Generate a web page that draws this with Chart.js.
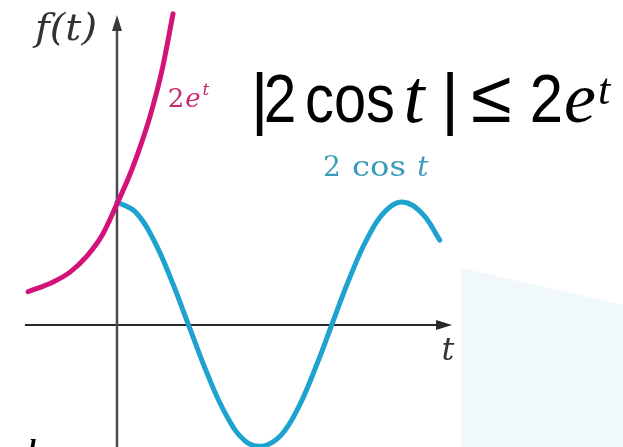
<!DOCTYPE html>
<html>
<head>
<meta charset="utf-8">
<script src="https://cdn.jsdelivr.net/npm/chart.js@4/dist/chart.umd.min.js"></script>
<style>
  html, body { margin: 0; padding: 0; background: #fff; }
  canvas { display: block; }
</style>
</head>
<body>
<canvas id="grafico" width="623" height="447"></canvas>
<script>
// curva 2 cos t
const tCos = [0, 0.4, 0.8, 1.2, 1.6, 2.0, 2.4, 2.8, 3.18, 3.6, 4.0, 4.4, 4.71, 5.1, 5.5, 5.9, 6.27, 6.7, 7.08];
const cosValues = [2.0, 1.84, 1.39, 0.72, -0.06, -0.83, -1.47, -1.88, -1.97, -1.79, -1.31, -0.61, 0.0, 0.76, 1.42, 1.86, 2.0, 1.81, 1.38];

// curva 2e^t
const tExp = [-1.95, -1.40, -1.03, -0.66, -0.31, 0, 0.29, 0.50, 0.72, 0.99, 1.23];
const expValues = [0.54, 0.70, 0.86, 1.12, 1.48, 1.97, 2.46, 2.88, 3.38, 4.15, 5.06];

// limites dos eixos
const tRange = [-2.566, 11.1];
const fRange = [-1.984, 5.285];
const axisT = [-2.02, 7.35];
const axisF = [-1.984, 5.04];

const toPoints = (xs, ys) => xs.map((x, i) => ({ x: x, y: ys[i] }));

// texto centrado em cx, com escala horizontal opcional
function texto(ctx, str, font, cx, y, sx) {
  ctx.save();
  ctx.font = font;
  ctx.textAlign = 'center';
  ctx.translate(cx, y);
  ctx.scale(sx || 1, 1);
  ctx.fillText(str, 0, 0);
  ctx.restore();
}

// desenha eixos, fundo e textos
const decoracao = {
  id: 'decoracao',
  beforeDatasetsDraw(chart) {
    const ctx = chart.ctx;
    const sx = chart.scales.x, sy = chart.scales.y;

    // faixa azul clara no canto
    ctx.save();
    ctx.fillStyle = '#f0f8fc';
    ctx.beginPath();
    ctx.moveTo(461, 268);
    ctx.lineTo(623, 305);
    ctx.lineTo(623, 447);
    ctx.lineTo(461, 447);
    ctx.closePath();
    ctx.fill();

    const x0 = sx.getPixelForValue(0);
    const y0 = sy.getPixelForValue(0);

    // eixo t
    const xa = sx.getPixelForValue(axisT[0]);
    const xb = sx.getPixelForValue(axisT[1]);
    ctx.strokeStyle = '#2a2a2a';
    ctx.lineWidth = 2;
    ctx.beginPath();
    ctx.moveTo(xa, y0);
    ctx.lineTo(xb - 8, y0);
    ctx.stroke();
    ctx.fillStyle = '#2a2a2a';
    ctx.beginPath();
    ctx.moveTo(xb, y0);
    ctx.lineTo(xb - 16, y0 - 5);
    ctx.lineTo(xb - 16, y0 + 5);
    ctx.closePath();
    ctx.fill();

    // eixo f(t)
    const ya = sy.getPixelForValue(axisF[0]);
    const yb = sy.getPixelForValue(axisF[1]);
    ctx.strokeStyle = '#4a4a4a';
    ctx.lineWidth = 2.5;
    ctx.beginPath();
    ctx.moveTo(x0, ya);
    ctx.lineTo(x0, yb + 8);
    ctx.stroke();
    ctx.fillStyle = '#3a3a3a';
    ctx.beginPath();
    ctx.moveTo(x0, yb);
    ctx.lineTo(x0 - 5, yb + 16);
    ctx.lineTo(x0 + 5, yb + 16);
    ctx.closePath();
    ctx.fill();
    ctx.restore();
  },
  afterDatasetsDraw(chart) {
    const ctx = chart.ctx;
    ctx.save();
    ctx.textBaseline = 'alphabetic';

    // rótulos dos eixos
    ctx.fillStyle = '#333';
    texto(ctx, 'f(t)', 'italic 38px "DejaVu Serif"', 66, 40, 1.05);
    texto(ctx, 't', 'italic 32px "DejaVu Serif"', 448, 360);

    // 2e^t
    ctx.fillStyle = '#c42a72';
    texto(ctx, '2', '26px "DejaVu Serif"', 176, 107);
    texto(ctx, 'e', 'italic 26px "DejaVu Serif"', 193, 107);
    texto(ctx, 't', 'italic 17px "DejaVu Serif"', 206, 95);

    // 2 cos t
    ctx.fillStyle = '#3a9cb8';
    texto(ctx, '2', '28px "DejaVu Serif"', 332, 176);
    texto(ctx, 'cos', '28px "DejaVu Serif"', 379, 176, 1.15);
    texto(ctx, 't', 'italic 28px "DejaVu Serif"', 423, 176);

    // desigualdade
    ctx.fillStyle = '#000';
    const sans = '68px "Liberation Sans"';
    texto(ctx, '|', sans, 259.5, 122);
    texto(ctx, '2', sans, 280, 122, 0.86);
    texto(ctx, 'cos', sans, 350, 122, 0.85);
    texto(ctx, 't', 'italic 76px "Liberation Serif"', 414, 122);
    texto(ctx, '|', sans, 450, 122);
    texto(ctx, '\u2264', '74px "Liberation Sans"', 491.5, 122);
    texto(ctx, '2', sans, 546.5, 122, 0.88);
    texto(ctx, 'e', 'italic 72px "Liberation Serif"', 580, 122);
    texto(ctx, 't', 'italic 44px "Liberation Serif"', 604, 104);

    // marca no canto inferior
    texto(ctx, 'l', 'bold italic 28px "Liberation Serif"', 32, 458);
    ctx.restore();
  }
};

new Chart(document.getElementById('grafico'), {
  type: 'scatter',
  data: {
    datasets: [
      {
        label: '2e^t',
        data: toPoints(tExp, expValues),
        showLine: true,
        borderColor: '#d3137a',
        borderWidth: 5,
        borderCapStyle: 'round',
        pointRadius: 0,
        cubicInterpolationMode: 'monotone'
      },
      {
        label: '2 cos t',
        data: toPoints(tCos, cosValues),
        showLine: true,
        borderColor: '#1ea2cf',
        borderWidth: 5,
        borderCapStyle: 'round',
        pointRadius: 0,
        tension: 0.4
      }
    ]
  },
  options: {
    responsive: false,
    animation: false,
    devicePixelRatio: 1,
    layout: { padding: 0 },
    plugins: {
      legend: { display: false },
      tooltip: { enabled: false }
    },
    scales: {
      x: { type: 'linear', min: tRange[0], max: tRange[1], display: false },
      y: { type: 'linear', min: fRange[0], max: fRange[1], display: false }
    }
  },
  plugins: [decoracao]
});
</script>
</body>
</html>
